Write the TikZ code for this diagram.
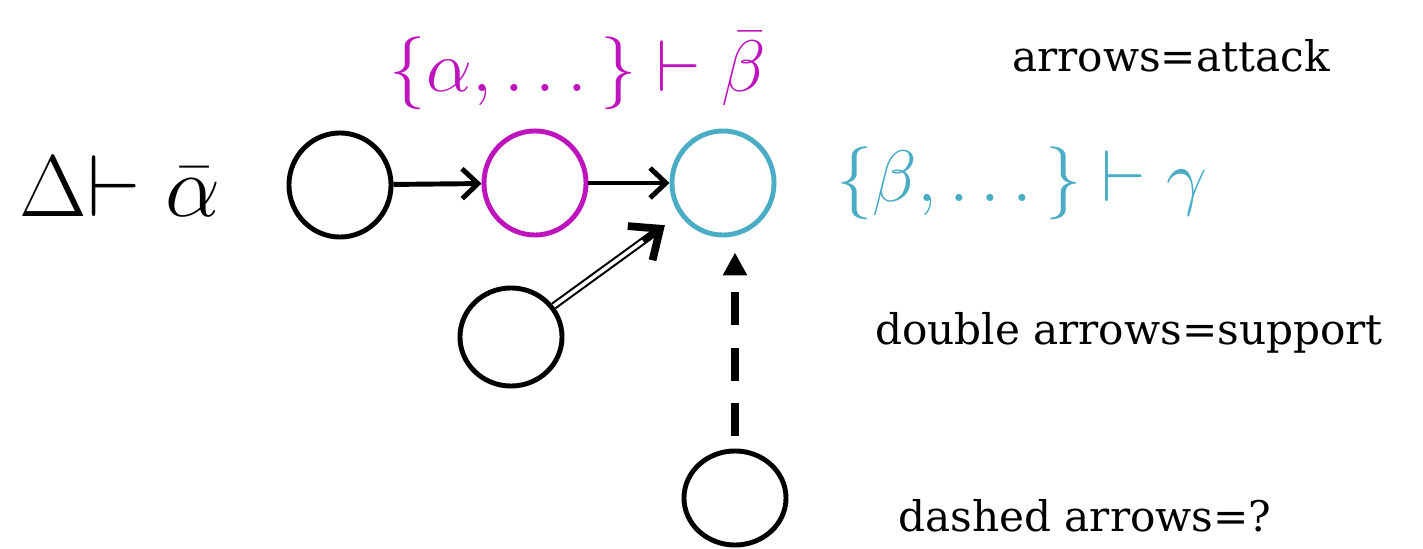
\documentclass[tikz,border=0pt]{standalone}
\usepackage{fontspec}
\setmainfont{DejaVu Serif}
\usetikzlibrary{shapes.geometric, arrows.meta}
\definecolor{argmag}{RGB}{190,20,190}
\definecolor{argcyan}{RGB}{75,172,198}

\begin{document}
\begin{tikzpicture}[x=0.01cm, y=-0.01cm, >={Straight Barb[length=4.5pt, width=8.5pt]},
  arg/.style={ellipse, draw, line width=1.4pt, minimum width=1.02cm, minimum height=1.04cm, inner sep=0pt},
  claim/.style={anchor=base, font=\fontsize{22}{26}\selectfont},
  legend/.style={anchor=base, font=\fontsize{12}{14}\selectfont}]
\useasboundingbox (0,0) rectangle (1423,549);
% arguments
\node[arg] (a0) at (340,185) {};
\node[arg, argmag] (a1) at (535,183) {};
\node[arg, argcyan] (a2) at (723,183) {};
\node[arg, minimum height=0.98cm] (sup) at (511,337) {};
\node[arg, minimum height=0.94cm] (dsh) at (735,498) {};
% claims
\node[claim, font=\fontsize{26}{30}\selectfont] (c0) at (120,217) {$\Delta{\vdash}\;\bar{\alpha}$};
\node[claim, argmag] (c1) at (578,92) {$\big\{\alpha,\ldots\big\}\vdash\bar{\beta}$};
\node[claim, argcyan] (c2) at (1022,202) {$\big\{\beta,\ldots\big\}\vdash\gamma$};
% attacks
\draw[->, line width=1.4pt] (a0) -- (a1);
\draw[->, line width=1.4pt] (a1) -- (a2);
% support
\draw[line width=2.2pt, -{Straight Barb[length=7pt, width=12pt]}, shorten >=0.18cm] (sup) -- (a2);
\draw[white, line width=1pt, shorten >=0.45cm] (sup) -- (a2);
% unknown
\draw[line width=2pt, dash pattern=on 9.4pt off 6.5pt, -{Triangle[length=6.5pt, width=6.5pt]},
  shorten <=0.12cm, shorten >=0.15cm] (dsh.north) -- (dsh.north |- a2.south);
% legend
\node[legend] (l0) at (1171,72) {arrows=attack};
\node[legend] (l1) at (1129,345) {double arrows=support};
\node[legend] (l2) at (1085,532) {dashed arrows=?};
\end{tikzpicture}
\end{document}
